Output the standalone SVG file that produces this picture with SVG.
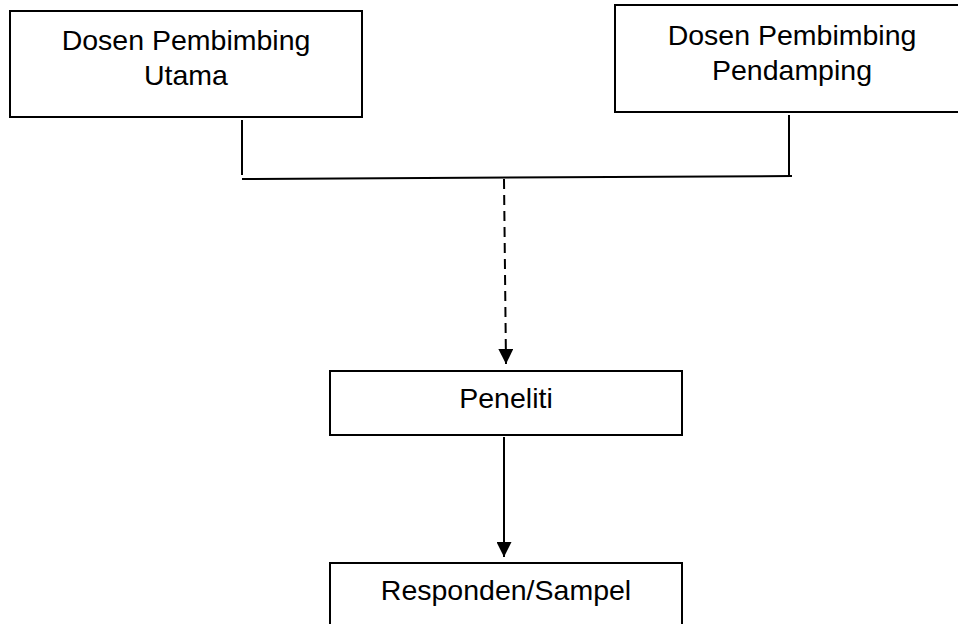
<svg xmlns="http://www.w3.org/2000/svg" width="958" height="624" viewBox="0 0 958 624">
<defs>
<style>
.box{fill:#fff;stroke:#000;stroke-width:2}
.lbl{font-family:"Liberation Sans",Arial,sans-serif;font-size:28.5px;fill:#000;text-anchor:middle}
.ln{stroke:#000;stroke-width:2;fill:none}
</style>
<marker id="ah" viewBox="0 0 10 10" refX="10" refY="5" markerWidth="15" markerHeight="15" markerUnits="userSpaceOnUse" orient="auto">
<path d="M0,0 L10,5 L0,10 z" fill="#000"/>
</marker>
</defs>
<rect width="958" height="624" fill="#fff"/>
<g id="utama">
<rect class="box" x="10" y="11" width="352" height="106"/>
<text class="lbl" x="186" y="50">Dosen Pembimbing</text>
<text class="lbl" x="186" y="85">Utama</text>
</g>
<g id="pendamping">
<rect class="box" x="615" y="5" width="360" height="107"/>
<text class="lbl" x="792" y="45">Dosen Pembimbing</text>
<text class="lbl" x="792" y="80">Pendamping</text>
</g>
<g id="peneliti">
<rect class="box" x="330" y="371" width="352" height="64"/>
<text class="lbl" x="506" y="408">Peneliti</text>
</g>
<g id="responden">
<rect class="box" x="330" y="563" width="352" height="70"/>
<text class="lbl" x="506" y="600">Responden/Sampel</text>
</g>
<g id="connectors">
<line class="ln" x1="242" y1="120" x2="242" y2="175"/>
<line class="ln" x1="789" y1="115" x2="789" y2="175"/>
<line class="ln" x1="242" y1="179" x2="792" y2="176"/>
<line class="ln" x1="504" y1="179" x2="506" y2="364" stroke-width="2.6" stroke-dasharray="10 6" marker-end="url(#ah)"/>
<line class="ln" x1="504" y1="437" x2="504" y2="557" marker-end="url(#ah)"/>
</g>
</svg>
